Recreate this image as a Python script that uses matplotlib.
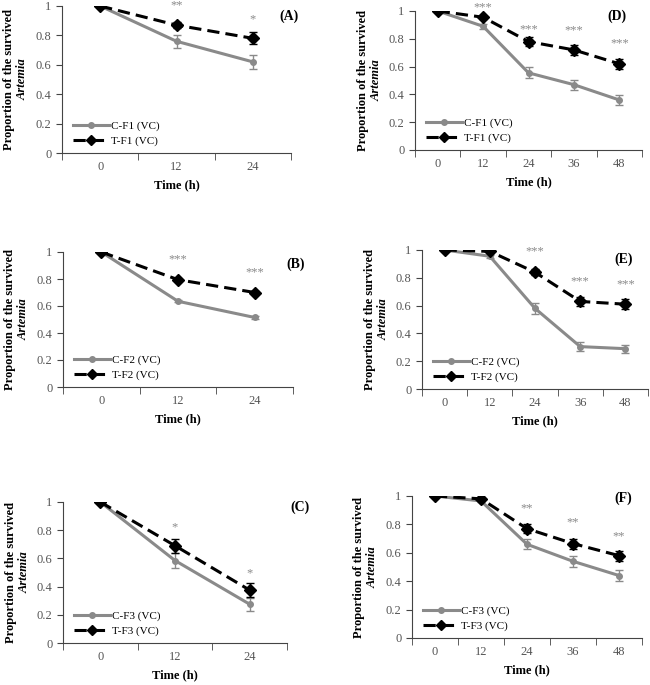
import numpy as np
import matplotlib.pyplot as plt
from matplotlib.lines import Line2D
from matplotlib.ticker import FixedLocator

plt.rcParams['font.family'] = ['Liberation Serif', 'DejaVu Serif']

GRAY = '#8a8a8a'

# panel data: times, control mean/err, treated mean/err, significance stars
times_24 = ['0', '12', '24']
times_48 = ['0', '12', '24', '36', '48']

a_ctrl = [1.0, 0.76, 0.62]
a_ctrl_err = [0.0, 0.045, 0.05]
a_trt = [1.0, 0.87, 0.78]
a_trt_err = [0.0, 0.02, 0.04]
a_stars = ['', '**', '*']
a_star_y = [None, 1.005, 0.91]

b_ctrl = [1.0, 0.635, 0.515]
b_ctrl_err = [0.0, 0.008, 0.008]
b_trt = [1.0, 0.795, 0.70]
b_trt_err = [0.0, 0.008, 0.008]
b_stars = ['', '***', '***']
b_star_y = [None, 0.945, 0.848]

c_ctrl = [1.0, 0.585, 0.275]
c_ctrl_err = [0.0, 0.055, 0.045]
c_trt = [1.0, 0.69, 0.375]
c_trt_err = [0.0, 0.05, 0.05]
c_stars = ['', '*', '*']
c_star_y = [None, 0.82, 0.495]

d_ctrl = [1.0, 0.89, 0.555, 0.47, 0.36]
d_ctrl_err = [0.0, 0.02, 0.04, 0.035, 0.035]
d_trt = [1.0, 0.955, 0.78, 0.72, 0.62]
d_trt_err = [0.0, 0.01, 0.03, 0.035, 0.035]
d_stars = ['', '***', '***', '***', '***']
d_star_y = [None, 1.03, 0.865, 0.86, 0.765]

e_ctrl = [1.0, 0.955, 0.58, 0.305, 0.29]
e_ctrl_err = [0.0, 0.01, 0.04, 0.035, 0.03]
e_trt = [1.0, 0.99, 0.84, 0.63, 0.61]
e_trt_err = [0.0, 0.01, 0.02, 0.035, 0.035]
e_stars = ['', '', '***', '***', '***']
e_star_y = [None, None, 0.988, 0.772, 0.755]

f_ctrl = [1.0, 0.965, 0.66, 0.54, 0.44]
f_ctrl_err = [0.0, 0.01, 0.035, 0.04, 0.04]
f_trt = [1.0, 0.98, 0.77, 0.665, 0.58]
f_trt_err = [0.0, 0.01, 0.03, 0.035, 0.035]
f_stars = ['', '', '**', '**', '**']
f_star_y = [None, None, 0.913, 0.812, 0.718]


def px_rect(left, bottom, right, top, W=650, H=685):
    return [left / W, (H - bottom) / H, (right - left) / W, (bottom - top) / H]


def draw_panel(fig, rect, times, ctrl, ctrl_err, trt, trt_err, stars, star_y,
               gen, letter, letter_pos):
    ax = fig.add_axes(px_rect(*rect))
    x = np.arange(len(times))
    ax.errorbar(x, ctrl, yerr=ctrl_err, color=GRAY, lw=2.2, marker='o',
                ms=4, capsize=3, elinewidth=1, capthick=1, zorder=3)
    ax.errorbar(x, trt, yerr=trt_err, color='black', lw=2.2, ls=(0, (4, 2)),
                marker='D', ms=6, capsize=3, elinewidth=1, capthick=1,
                zorder=4)
    for xi, s, sy in zip(x, stars, star_y):
        if s:
            ax.text(xi, sy, s, ha='center', va='center', fontsize=9,
                    color=GRAY, clip_on=False)

    ax.set_xlim(-0.5, len(times) - 0.5)
    ax.set_ylim(0, 1)
    ax.set_xticks(x)
    ax.set_xticklabels(times)
    ax.xaxis.set_minor_locator(FixedLocator(np.arange(len(times) + 1) - 0.5))
    ax.tick_params(axis='x', which='major', length=0, pad=6,
                   labelsize=9, labelcolor='#555555')
    ax.tick_params(axis='x', which='minor', length=5, direction='out',
                   color='#444444')
    ax.set_yticks([0, 0.2, 0.4, 0.6, 0.8, 1.0])
    ax.set_yticklabels(['0', '0.2', '0.4', '0.6', '0.8', '1'])
    ax.tick_params(axis='y', length=4, color='#444444', labelsize=9,
                   labelcolor='#555555')
    for side in ['top', 'right']:
        ax.spines[side].set_visible(False)
    for side in ['left', 'bottom']:
        ax.spines[side].set_color('#444444')

    ax.set_xlabel('Time (h)', fontsize=9, fontweight='bold', labelpad=4)
    ax.text(-0.23, 0.5, 'Proportion of the survived', rotation=90,
            ha='center', va='center', fontsize=9, fontweight='bold',
            transform=ax.transAxes)
    ax.text(-0.17, 0.5, 'Artemia', rotation=90, ha='center', va='center',
            fontsize=9, fontweight='bold', style='italic',
            transform=ax.transAxes)
    ax.text(letter_pos[0], letter_pos[1], letter, ha='center', va='center',
            fontsize=10, fontweight='bold', transform=ax.transAxes)

    handles = [
        Line2D([], [], color=GRAY, lw=2.2, marker='o', ms=4),
        Line2D([], [], color='black', lw=2.2, ls=(0, (4, 2)), marker='D',
               ms=5),
    ]
    ax.legend(handles, ['C-%s (VC)' % gen, 'T-%s (VC)' % gen],
              loc='lower left', bbox_to_anchor=(0.02, 0.0), frameon=False,
              fontsize=8, handlelength=3.2, handletextpad=0.2,
              labelspacing=0.5, borderaxespad=0.2)
    return ax


fig = plt.figure(figsize=(6.5, 6.85), dpi=100)

draw_panel(fig, (62, 153, 291, 6), times_24, a_ctrl, a_ctrl_err, a_trt,
           a_trt_err, a_stars, a_star_y, 'F1', '(A)', (0.99, 0.93))
draw_panel(fig, (63, 387, 293, 252), times_24, b_ctrl, b_ctrl_err, b_trt,
           b_trt_err, b_stars, b_star_y, 'F2', '(B)', (1.01, 0.91))
draw_panel(fig, (63, 643, 287, 502), times_24, c_ctrl, c_ctrl_err, c_trt,
           c_trt_err, c_stars, c_star_y, 'F3', '(C)', (1.06, 0.965))
draw_panel(fig, (415, 150, 642, 11), times_48, d_ctrl, d_ctrl_err, d_trt,
           d_trt_err, d_stars, d_star_y, 'F1', '(D)', (0.89, 0.96))
draw_panel(fig, (422, 389, 648, 250), times_48, e_ctrl, e_ctrl_err, e_trt,
           e_trt_err, e_stars, e_star_y, 'F2', '(E)', (0.89, 0.935))
draw_panel(fig, (412, 638, 642, 496), times_48, f_ctrl, f_ctrl_err, f_trt,
           f_trt_err, f_stars, f_star_y, 'F3', '(F)', (0.92, 0.985))

plt.savefig('out.png', dpi=100)
